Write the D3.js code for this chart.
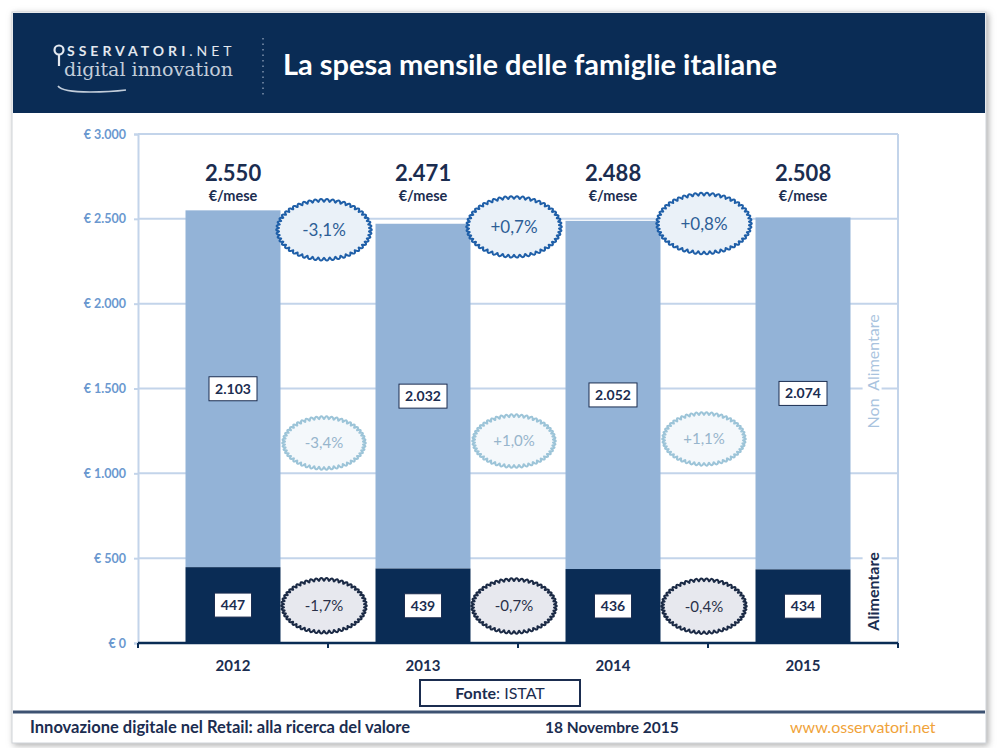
<!DOCTYPE html>
<html lang="it">
<meta charset="utf-8">
<head>
  <script src="https://d3js.org/d3.v7.min.js"></script>
  <style>
    body { margin: 0; background: #ffffff; }
    svg { display: block; font-family: "Lato", "Open Sans", sans-serif; }
  </style>
</head>
<body>
  <div id="my_dataviz"></div>
  <script>
    // data
    var years = ["2012", "2013", "2014", "2015"];
    var totale = [2550, 2471, 2488, 2508];
    var nonAlimentare = [2103, 2032, 2052, 2074];
    var alimentare = [447, 439, 436, 434];
    var varTotale = ["-3,1%", "+0,7%", "+0,8%"];
    var varNonAlim = ["-3,4%", "+1,0%", "+1,1%"];
    var varAlim = ["-1,7%", "-0,7%", "-0,4%"];
    var yTicks = [0, 500, 1000, 1500, 2000, 2500, 3000];

    var it = d3.formatLocale({ decimal: ",", thousands: ".", grouping: [3], currency: ["€ ", ""] });
    var fmt = it.format(",d");

    var W = 1000, H = 748;
    var navy = "#0a2c55", dark = "#1b2d50", light = "#93b3d7", grid = "#c3d4ea";

    var svg = d3.select("#my_dataviz").append("svg")
      .attr("width", W).attr("height", H);

    // card with shadow
    var defs = svg.append("defs");
    var f = defs.append("filter").attr("id", "sh").attr("x", -0.05).attr("y", -0.05).attr("width", 1.1).attr("height", 1.1);
    f.append("feDropShadow").attr("dx", 2).attr("dy", 2).attr("stdDeviation", 3).attr("flood-color", "#888").attr("flood-opacity", 0.7);

    svg.append("rect").attr("x", 12).attr("y", 12).attr("width", 974).attr("height", 731)
      .attr("fill", "#fff").attr("stroke", "#cfd3d8").attr("filter", "url(#sh)");

    // header
    svg.append("rect").attr("x", 13).attr("y", 13).attr("width", 972).attr("height", 100).attr("fill", navy);
    svg.append("text").attr("x", 283).attr("y", 75).attr("fill", "#fff")
      .style("font-size", "29px").style("font-weight", 700)
      .text("La spesa mensile delle famiglie italiane");

    // separator
    svg.append("line").attr("x1", 263).attr("x2", 263).attr("y1", 38).attr("y2", 96)
      .attr("stroke", "#7f93ad").attr("stroke-width", 1.5).attr("stroke-dasharray", "1.5,4");

    // logo
    var logo = svg.append("g");
    logo.append("circle").attr("cx", 59).attr("cy", 50).attr("r", 4.5).attr("fill", "none").attr("stroke", "#e3e8ef").attr("stroke-width", 2.2);
    logo.append("line").attr("x1", 59).attr("x2", 59).attr("y1", 55).attr("y2", 66).attr("stroke", "#e3e8ef").attr("stroke-width", 2.2);
    logo.append("text").attr("x", 67).attr("y", 56).attr("fill", "#e3e8ef")
      .style("font-size", "14px").style("font-weight", 700).style("letter-spacing", "4px")
      .text("SSERVATORI").append("tspan").style("font-weight", 400).text(".NET");
    logo.append("text").attr("x", 64).attr("y", 76).attr("fill", "#c2cdda")
      .style("font-family", "'DejaVu Serif', 'Liberation Serif', serif").style("font-size", "19px")
      .text("digital innovation");
    logo.append("path").attr("d", "M58,86 Q62,92 90,92 Q110,92 126,90")
      .attr("fill", "none").attr("stroke", "#c2cdda").attr("stroke-width", 1.6);

    // plot area
    var pLeft = 138, pRight = 898, pTop = 134, pBottom = 643;
    var x = d3.scaleBand().domain(years).range([pLeft, pRight]).paddingInner(0.5).paddingOuter(0.25);
    var y = d3.scaleLinear().domain([0, 3000]).range([pBottom, pTop]);
    var bw = x.bandwidth();

    // grid
    svg.append("g").selectAll("line").data(yTicks.slice(1)).join("line")
      .attr("x1", pLeft).attr("x2", pRight).attr("y1", d => y(d)).attr("y2", d => y(d))
      .attr("stroke", grid).attr("stroke-width", 2);
    svg.append("line").attr("x1", pRight).attr("x2", pRight).attr("y1", pTop).attr("y2", pBottom)
      .attr("stroke", grid).attr("stroke-width", 2);

    // y axis
    var yAxis = svg.append("g").attr("transform", "translate(" + pLeft + ",0)")
      .call(d3.axisLeft(y).tickValues(yTicks).tickSize(4).tickPadding(8).tickFormat(it.format("$,d")));
    yAxis.select(".domain").attr("stroke", grid).attr("stroke-width", 2);
    yAxis.selectAll(".tick line").attr("stroke", grid).attr("stroke-width", 2);
    yAxis.selectAll("text").attr("fill", "#6a98cf").style("font-size", "12.5px").style("font-weight", 700)
      .style("font-family", "'Lato', sans-serif");

    // bars
    svg.append("g").selectAll("rect").data(years).join("rect")
      .attr("x", d => x(d)).attr("width", bw)
      .attr("y", (d, i) => y(totale[i])).attr("height", (d, i) => y(alimentare[i]) - y(totale[i]))
      .attr("fill", light);
    svg.append("g").selectAll("rect").data(years).join("rect")
      .attr("x", d => x(d)).attr("width", bw)
      .attr("y", (d, i) => y(alimentare[i])).attr("height", (d, i) => y(0) - y(alimentare[i]))
      .attr("fill", navy);

    // x axis
    var mids = years.slice(1).map((d, i) => (x(years[i]) + x(d) + bw) / 2);
    var xAxisG = svg.append("g").attr("transform", "translate(0," + pBottom + ")");
    xAxisG.append("line").attr("x1", pLeft).attr("x2", pRight).attr("stroke", navy).attr("stroke-width", 2.5);
    xAxisG.selectAll("line.tk").data([pLeft].concat(mids, [pRight])).join("line").attr("class", "tk")
      .attr("x1", d => d).attr("x2", d => d).attr("y1", 0).attr("y2", 5)
      .attr("stroke", navy).attr("stroke-width", 2);
    xAxisG.selectAll("text").data(years).join("text")
      .attr("x", d => x(d) + bw / 2).attr("y", 28).attr("text-anchor", "middle")
      .attr("fill", dark).style("font-size", "15px").style("font-weight", 700).text(d => d);

    // totals above bars, all on the same level
    var labelTop = y(d3.max(totale));
    var tot = svg.append("g").selectAll("g").data(years).join("g")
      .attr("transform", (d, i) => "translate(" + (x(d) + bw / 2) + "," + labelTop + ")");
    tot.append("text").attr("y", -29).attr("text-anchor", "middle").attr("fill", dark)
      .style("font-size", "22px").style("font-weight", 700).text((d, i) => fmt(totale[i]));
    tot.append("text").attr("y", -9).attr("text-anchor", "middle").attr("fill", dark)
      .style("font-size", "14.5px").style("font-weight", 700).text("€/mese");

    // value boxes
    function valueBox(vals, yFn, w) {
      var g = svg.append("g").selectAll("g").data(years).join("g")
        .attr("transform", (d, i) => "translate(" + (x(d) + bw / 2) + "," + yFn(i) + ")");
      g.append("rect").attr("x", -w / 2).attr("y", -12).attr("width", w).attr("height", 24)
        .attr("fill", "#fff").attr("stroke", dark).attr("stroke-width", 1);
      g.append("text").attr("y", 5).attr("text-anchor", "middle").attr("fill", dark)
        .style("font-size", "14px").style("font-weight", 700).text((d, i) => fmt(vals[i]));
    }
    valueBox(nonAlimentare, i => y((alimentare[i] + totale[i]) / 2), 48);
    valueBox(alimentare, i => y(alimentare[i] / 2), 37);

    // scalloped ellipses
    var wavy = d3.line().curve(d3.curveCardinalClosed);
    function scallop(rx, ry, n, a) {
      var pts = [];
      for (var k = 0; k < n * 4; k++) {
        var t = k / (n * 4) * 2 * Math.PI;
        var r = Math.abs(Math.cos(n * t / 2)) * a;
        pts.push([(rx + r) * Math.cos(t), (ry + r) * Math.sin(t)]);
      }
      return wavy(pts);
    }
    function badges(labels, yFn, rx, ry, stroke, fill, color, fs) {
      var g = svg.append("g").selectAll("g").data(labels).join("g")
        .attr("transform", (d, i) => "translate(" + (mids[i] - 4) + "," + yFn(i) + ")");
      g.append("path").attr("d", scallop(rx, ry, 50, 2.8))
        .attr("fill", fill).attr("stroke", stroke).attr("stroke-width", 2);
      g.append("text").attr("y", fs * 0.36).attr("text-anchor", "middle").attr("fill", color)
        .style("font-size", fs + "px").text(d => d);
    }
    badges(varTotale, i => y(totale[i + 1]) + 6, 45, 28, "#1f5fa8", "#eaf1f8", "#2d5e96", 17);
    badges(varNonAlim, i => y(nonAlimentare[i + 1] * 0.58), 39, 24, "#9cc4d8", "#f4f8fb", "#97b5cc", 15);
    badges(varAlim, i => y(alimentare[i + 1] / 2), 40, 25, "#1b2a45", "#e7e8ee", "#2a3048", 15);

    // right side labels
    function sideLabel(txt, cy, color, weight, fs) {
      var g = svg.append("g").attr("transform", "translate(873," + cy + ") rotate(-90)");
      var t = g.append("text").attr("y", fs * 0.35).attr("text-anchor", "middle").attr("fill", color)
        .style("font-size", fs + "px").style("font-weight", weight).style("white-space", "pre").text(txt);
      var b = t.node().getBBox();
      g.insert("rect", "text").attr("x", b.x - 3).attr("y", b.y).attr("width", b.width + 6).attr("height", b.height)
        .attr("fill", "#fff");
    }
    sideLabel("Non  Alimentare", y((alimentare[3] + totale[3]) / 2 + 130), "#a9c3de", 400, 16);
    sideLabel("Alimentare", y(alimentare[3] * 0.7), dark, 700, 16);

    // fonte
    svg.append("rect").attr("x", 420).attr("y", 680).attr("width", 160).attr("height", 26)
      .attr("fill", "#fff").attr("stroke", dark).attr("stroke-width", 2);
    var fonte = svg.append("text").attr("x", 500).attr("y", 699).attr("text-anchor", "middle")
      .attr("fill", dark).style("font-size", "16px");
    fonte.append("tspan").style("font-weight", 700).text("Fonte");
    fonte.append("tspan").text(": ISTAT");

    // footer
    svg.append("line").attr("x1", 13).attr("x2", 985).attr("y1", 712).attr("y2", 712)
      .attr("stroke", "#3d5272").attr("stroke-width", 3);
    svg.append("text").attr("x", 30).attr("y", 733).attr("fill", dark)
      .style("font-size", "16.5px").style("font-weight", 700)
      .text("Innovazione digitale nel Retail: alla ricerca del valore");
    svg.append("text").attr("x", 545).attr("y", 733).attr("fill", dark)
      .style("font-size", "15.5px").style("font-weight", 700).text("18 Novembre 2015");
    svg.append("text").attr("x", 790).attr("y", 733).attr("fill", "#f0a33a")
      .style("font-size", "16px").text("www.osservatori.net");
  </script>
</body>
</html>
